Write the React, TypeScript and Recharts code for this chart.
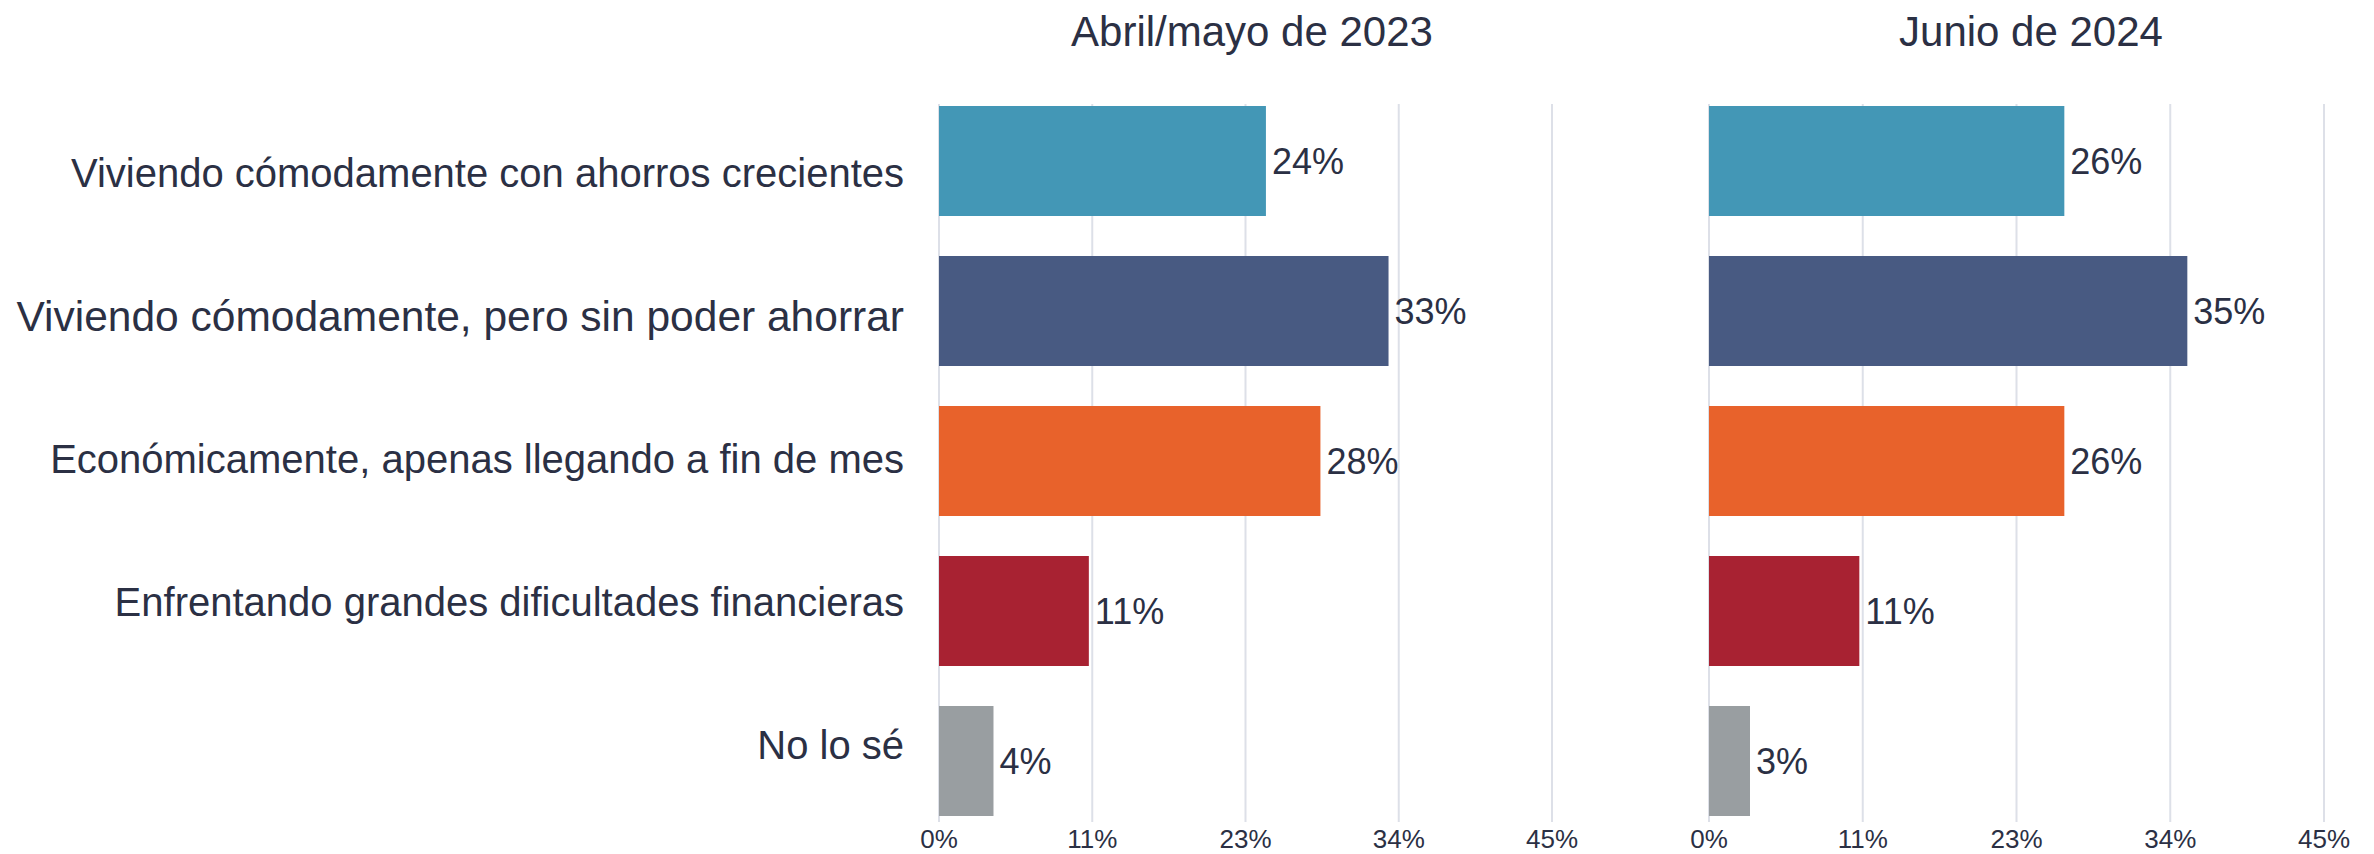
import React from 'react';
import { BarChart, Bar, XAxis, YAxis, CartesianGrid, Cell, LabelList } from 'recharts';

const categories = [
    'Viviendo cómodamente con ahorros crecientes',
    'Viviendo cómodamente, pero sin poder ahorrar',
    'Económicamente, apenas llegando a fin de mes',
    'Enfrentando grandes dificultades financieras',
    'No lo sé',
];
const values2023 = [24, 33, 28, 11, 4];
const values2024 = [26, 35, 26, 11, 3];
const xTicks = [0, 11.25, 22.5, 33.75, 45];
const titles = ['Abril/mayo de 2023', 'Junio de 2024'];
const barColors = ['#4397b6', '#485a82', '#e8622b', '#a82232', '#999ea1'];

const FONT = '"Liberation Sans", Arial, sans-serif';
const TEXT = '#2b3044';
const GRID = '#dde0e8';

const toRows = (values: number[]) => categories.map((name, i) => ({ name, value: values[i] }));

const CategoryTick = (props: any) => {
    const { x, y, payload, index } = props;
    // labels sit on a slightly tighter spacing than the bars in the original
    const shift = 12 - 7 * index;
    // the second label is drawn a bit larger in the original
    const size = index === 1 ? 42.5 : 40;
    return (
        <text x={x} y={y + shift} dy="0.355em" textAnchor="end" fill={TEXT} fontSize={size} fontFamily={FONT}>
            {payload.value}
        </text>
    );
};

const PctTick = (props: any) => {
    const { x, y, payload } = props;
    return (
        <text x={x} y={y - 6} dy="0.71em" textAnchor="middle" fill={TEXT} fontSize={26} fontFamily={FONT}>
            {Math.round(payload.value)}%
        </text>
    );
};

const gridLine = (props: any) => (
    <line key={props.key} x1={props.x1} x2={props.x2} y1={props.y1 + 18} y2={props.y2 - 14} stroke={GRID} strokeWidth={2} />
);

const Panel = ({ values, showLabels, width, margin }: { values: number[]; showLabels: boolean; width: number; margin: any }) => (
    <BarChart width={width} height={854} data={toRows(values)} layout="vertical" margin={margin} barCategoryGap={20}>
        <CartesianGrid horizontal={false} vertical={gridLine} />
        <XAxis type="number" domain={[0, 45]} ticks={xTicks} axisLine={false} tickLine={false} tickSize={0} tickMargin={0} height={18} tick={<PctTick />} interval={0} />
        {showLabels ? (
            <YAxis type="category" dataKey="name" width={939} axisLine={false} tickLine={false} tickSize={0} tickMargin={35} tick={<CategoryTick />} interval={0} />
        ) : (
            <YAxis type="category" dataKey="name" hide />
        )}
        <Bar dataKey="value" isAnimationActive={false}>
            {values.map((_, i) => (
                <Cell key={i} fill={barColors[i]} />
            ))}
            <LabelList dataKey="value" position="right" offset={6} formatter={(v: any) => `${v}%`} fill={TEXT} fontSize={36} fontFamily={FONT} />
        </Bar>
    </BarChart>
);

const titleStyle = (center: number): React.CSSProperties => ({
    position: 'absolute',
    left: center - 300,
    width: 600,
    top: 11,
    textAlign: 'center',
    fontSize: 42,
    lineHeight: '42px',
    fontFamily: FONT,
    color: TEXT,
});

export default function App() {
    return (
        <div style={{ position: 'absolute', left: 0, top: 0, width: 2374, height: 854, background: '#ffffff', overflow: 'hidden' }}>
            <div style={{ position: 'absolute', left: 0, top: 0 }}>
                <Panel values={values2023} showLabels width={1600} margin={{ top: 86, right: 48, bottom: 0, left: 0 }} />
            </div>
            <div style={{ position: 'absolute', left: 1600, top: 0 }}>
                <Panel values={values2024} showLabels={false} width={774} margin={{ top: 86, right: 50, bottom: 0, left: 109 }} />
            </div>
            <div style={titleStyle(1252)}>{titles[0]}</div>
            <div style={titleStyle(2031)}>{titles[1]}</div>
        </div>
    );
}
